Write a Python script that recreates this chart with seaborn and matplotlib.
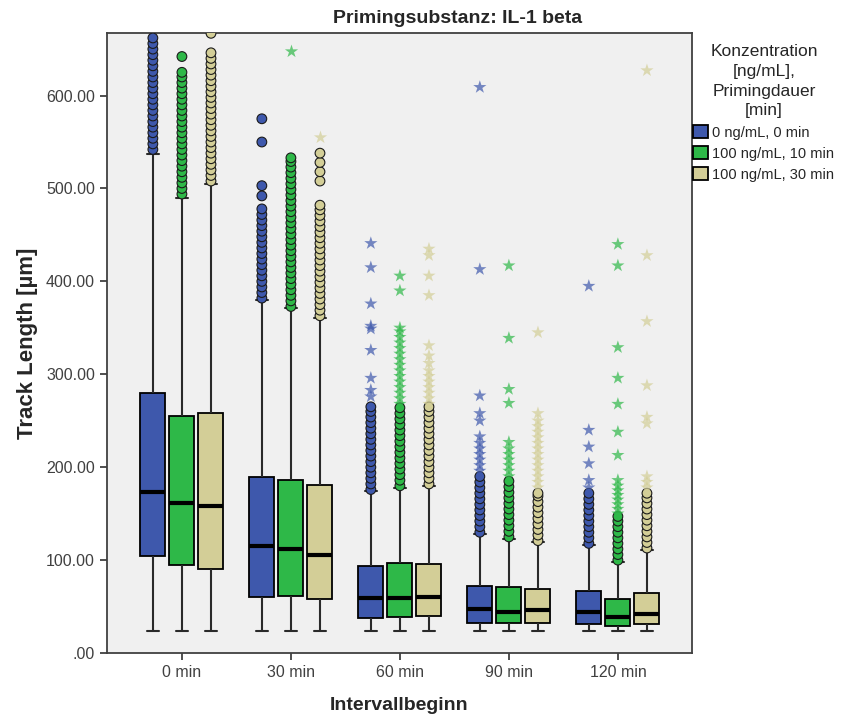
import seaborn as sns
import numpy as np
import pandas as pd
import matplotlib.pyplot as plt

# categories
intervals = ["0 min", "30 min", "60 min", "90 min", "120 min"]
groups = ["0 ng/mL, 0 min", "100 ng/mL, 10 min", "100 ng/mL, 30 min"]
colors = ["#3E58AC", "#2EB848", "#D3CE97"]

# box summaries (whisker low, q1, median, q3, whisker high) per group, per interval
low_blue = [24, 24, 24, 24, 24]
q1_blue = [104, 60.5, 37.5, 32.6, 31]
med_blue = [173.5, 115, 59, 47, 44]
q3_blue = [279.6, 190, 94, 72, 67]
high_blue = [537, 380, 174, 128, 116]

low_green = [24, 24, 24, 24, 24]
q1_green = [95, 61, 39, 32.6, 29]
med_green = [162, 112, 59, 44, 39]
q3_green = [255, 186, 97, 71, 58]
high_green = [490, 371, 178, 123, 98]

low_tan = [24, 24, 24, 24, 24]
q1_tan = [90, 58, 40, 32.6, 31]
med_tan = [158, 105, 60.5, 46, 42]
q3_tan = [258, 180.6, 96, 69, 64.5]
high_tan = [505, 361, 180, 119, 111]

# outliers (circles) per interval: [blue, green, tan]
circles_0 = [[542, 548, 554, 560, 566, 572, 578, 584, 590, 596, 602, 608, 614, 620, 626, 632, 638, 644, 650, 656, 662],
             [494, 500, 506, 512, 518, 524, 530, 536, 542, 548, 554, 560, 566, 572, 578, 584, 590, 596, 602, 608, 614, 620, 625, 642],
             [508, 514, 520, 526, 532, 538, 544, 550, 556, 562, 568, 574, 580, 586, 592, 598, 604, 610, 616, 622, 628, 634, 640, 646, 667]]
circles_30 = [[382, 388, 394, 400, 406, 412, 418, 424, 430, 436, 442, 448, 454, 460, 466, 472, 478, 492, 503, 550, 575],
              [373, 379, 385, 391, 397, 403, 409, 415, 421, 427, 433, 439, 445, 451, 457, 463, 469, 475, 481, 487, 493, 499, 505, 511, 517, 523, 529, 533],
              [363, 369, 375, 381, 387, 393, 399, 405, 411, 417, 423, 429, 435, 441, 447, 453, 459, 465, 471, 477, 482, 508, 518, 528, 538]]
circles_60 = [[176, 182, 188, 194, 200, 206, 212, 218, 224, 230, 236, 242, 248, 254, 260, 265],
              [180, 186, 192, 198, 204, 210, 216, 222, 228, 234, 240, 246, 252, 258, 264],
              [182, 188, 194, 200, 206, 212, 218, 224, 230, 236, 242, 248, 254, 260, 265]]
circles_90 = [[130, 136, 142, 148, 154, 160, 166, 172, 178, 184, 190],
              [125, 131, 137, 143, 149, 155, 161, 167, 173, 179, 185],
              [121, 127, 133, 139, 145, 151, 157, 163, 169, 172]]
circles_120 = [[118, 124, 130, 136, 142, 148, 154, 160, 166, 172],
               [100, 106, 112, 118, 124, 130, 136, 142, 147],
               [113, 119, 125, 131, 137, 143, 149, 155, 161, 167, 172]]

# extreme values (stars) per interval: [blue, green, tan]
stars_0 = [[], [], []]
stars_30 = [[], [648], [555]]
stars_60 = [[276, 283, 296, 326, 349, 352, 376, 415, 441],
            [268, 274, 280, 286, 292, 298, 304, 310, 316, 322, 328, 334, 340, 346, 350, 390, 406],
            [268, 274, 280, 286, 292, 298, 304, 312, 320, 331, 385, 406, 428, 435]]
stars_90 = [[196, 202, 208, 214, 220, 226, 233, 250, 258, 277, 413, 609],
            [190, 196, 202, 208, 214, 220, 227, 269, 284, 339, 417],
            [178, 184, 190, 196, 202, 208, 214, 220, 226, 232, 238, 244, 250, 258, 345]]
stars_120 = [[178, 186, 204, 222, 240, 395],
             [150, 155, 160, 165, 170, 175, 180, 186, 213, 238, 268, 296, 329, 417, 440],
             [178, 184, 190, 247, 254, 288, 357, 428, 627]]

yticks = [0, 100, 200, 300, 400, 500, 600]
ytick_labels = [".00", "100.00", "200.00", "300.00", "400.00", "500.00", "600.00"]

# build long tables
rows = []
summaries = [(low_blue, q1_blue, med_blue, q3_blue, high_blue),
             (low_green, q1_green, med_green, q3_green, high_green),
             (low_tan, q1_tan, med_tan, q3_tan, high_tan)]
for g, summ in zip(groups, summaries):
    for i, iv in enumerate(intervals):
        for s in summ:
            rows.append((iv, g, s[i]))
box_df = pd.DataFrame(rows, columns=["interval", "group", "value"])

def to_df(lists):
    out = []
    for iv, per_group in zip(intervals, lists):
        for g, vals in zip(groups, per_group):
            for v in vals:
                out.append((iv, g, v))
    return pd.DataFrame(out, columns=["interval", "group", "value"])

circ_df = to_df([circles_0, circles_30, circles_60, circles_90, circles_120])
star_df = to_df([stars_0, stars_30, stars_60, stars_90, stars_120])

sns.set_theme(style="ticks")
plt.rcParams["font.family"] = ["Liberation Sans", "DejaVu Sans"]

fig = plt.figure(figsize=(8.47, 7.24), dpi=100)
ax = fig.add_axes([0.126, 0.098, 0.691, 0.856])
ax.set_facecolor("#F0F0F0")

pal = dict(zip(groups, colors))
sns.boxplot(data=box_df, x="interval", y="value", hue="group", order=intervals, hue_order=groups,
            palette=pal, saturation=1, whis=(0, 100), showfliers=False, width=0.8, gap=0.14,
            linecolor="black", linewidth=1.3,
            medianprops={"linewidth": 3, "color": "black"},
            whiskerprops={"linewidth": 1.5, "color": "#2a2a2a"},
            capprops={"linewidth": 1.5, "color": "#2a2a2a"},
            ax=ax)

sns.stripplot(data=circ_df, x="interval", y="value", hue="group", order=intervals, hue_order=groups,
              palette=pal, dodge=True, jitter=False, marker="o", size=7, linewidth=0.8,
              edgecolor="#1a1a1a", legend=False, ax=ax)
sns.stripplot(data=star_df, x="interval", y="value", hue="group", order=intervals, hue_order=groups,
              palette=pal, dodge=True, jitter=False, marker="*", size=10, linewidth=0,
              alpha=0.7, legend=False, ax=ax)

ax.set_xlim(-0.69, 4.68)
ax.set_ylim(0, 667)
ax.set_yticks(yticks)
ax.set_yticklabels(ytick_labels)
ax.tick_params(axis="both", labelsize=11.5, labelcolor="#404040", color="#404040", length=5, width=1.3)
for sp in ax.spines.values():
    sp.set_color("#404040")
    sp.set_linewidth(1.3)

ax.set_xlabel("Intervallbeginn", fontsize=14, fontweight="bold", labelpad=12)
ax.set_ylabel("Track Length [µm]", fontsize=16, fontweight="bold", labelpad=6)
fig.text(0.54, 0.975, "Primingsubstanz: IL-1 beta", ha="center", va="center",
         fontsize=14, fontweight="bold")

sns.move_legend(ax, "upper left", bbox_to_anchor=(1.0, 0.985),
                title="Konzentration\n[ng/mL],\nPrimingdauer\n[min]",
                frameon=False, alignment="center", fontsize=10.5, title_fontsize=12.5,
                handlelength=1.0, handleheight=1.0, handletextpad=0.3, labelspacing=0.45,
                borderaxespad=0.1, borderpad=0)
leg_title = ax.get_legend().get_title()
leg_title.set_multialignment("center")
leg_title.set_linespacing(1.4)

fig.savefig("out.png", dpi=100)
